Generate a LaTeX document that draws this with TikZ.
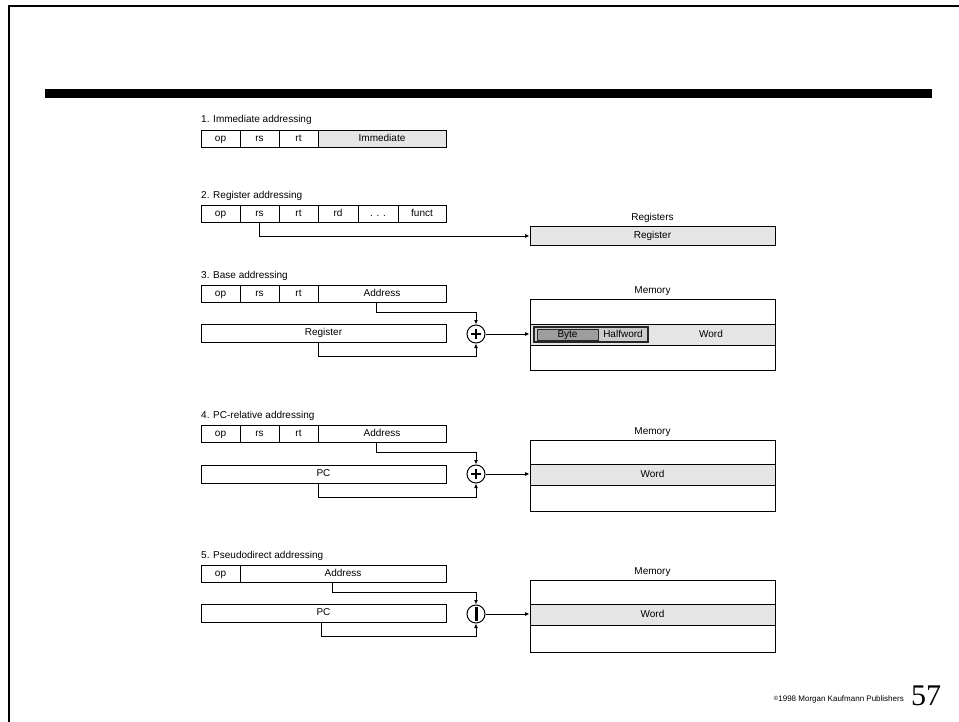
\documentclass[tikz,border=0pt]{standalone}
\usepackage{fontspec}
\setmainfont{Liberation Sans}
\newfontfamily\serifnum{Liberation Serif}
\usetikzlibrary{arrows.meta}
\begin{document}
\begin{tikzpicture}[x=1pt,y=-1pt,
  font=\fontsize{10}{12}\selectfont,
  txt/.style={text height=7.2pt,text depth=2pt},
  cell/.style={draw,line width=0.9pt,inner sep=0pt,minimum height=17pt,txt},
  light/.style={fill=black!10},
  lbl/.style={anchor=west,inner sep=0pt,txt},
  conn/.style={line width=0.9pt,-{Latex[length=4.5pt,width=4pt]}},
  adder/.style={draw,circle,line width=1pt,minimum size=18pt,inner sep=0pt},
  membox/.style={draw,line width=0.9pt,fill=white,inner sep=0pt,minimum width=245pt},
  memrow/.style={draw,line width=0.9pt,fill=black!10,inner sep=0pt,minimum width=245pt,minimum height=21pt,txt},
]
\useasboundingbox (0,0) rectangle (959,722);
% frame and bar
\draw[line width=2pt] (9,722) -- (9,6) -- (959,6);
\fill (45,89) rectangle (932,98);

% ---------- 1. Immediate
\node[lbl] (t1) at (201,120) {1. Immediate addressing};
\node[cell,minimum width=39pt] (op1) at (220.5,138.5) {op};
\node[cell,minimum width=39pt] (rs1) at (259.5,138.5) {rs};
\node[cell,minimum width=39pt] (rt1) at (298.5,138.5) {rt};
\node[cell,light,minimum width=128pt] (im1) at (382,138.5) {Immediate};

% ---------- 2. Register
\node[lbl] (t2) at (201,196) {2. Register addressing};
\node[cell,minimum width=39pt] (op2) at (220.5,213.5) {op};
\node[cell,minimum width=39pt] (rs2) at (259.5,213.5) {rs};
\node[cell,minimum width=39pt] (rt2) at (298.5,213.5) {rt};
\node[cell,minimum width=40pt] (rd2) at (338,213.5) {rd};
\node[cell,minimum width=40pt] (sh2) at (378,213.5) {. . .};
\node[cell,minimum width=48pt] (fn2) at (422,213.5) {funct};
\node[txt] (regl) at (652.5,218) {Registers};
\node[memrow,minimum height=19pt] (reg2) at (652.5,236) {Register};
\draw[conn] (rs2.south) |- (reg2.west);

% ---------- 3. Base
\node[lbl] (t3) at (201,276) {3. Base addressing};
\node[cell,minimum width=39pt] (op3) at (220.5,293.5) {op};
\node[cell,minimum width=39pt] (rs3) at (259.5,293.5) {rs};
\node[cell,minimum width=39pt] (rt3) at (298.5,293.5) {rt};
\node[cell,minimum width=128pt] (ad3) at (382,293.5) {Address};
\node[cell,minimum width=245pt,minimum height=18pt] (rg3) at (323.5,333) {Register};
\node[adder] (p3) at (476,334) {};
\draw[line width=1.3pt] (p3.center) ++(-5,0) -- ++(10,0) (p3.center) ++(0,-5) -- ++(0,10);
\node[txt] (ml3) at (652.5,291) {Memory};
\node[membox,minimum height=71pt] (m3) at (652.5,334.5) {};
\node[memrow] (w3) at (652.5,334.5) {};
\node[draw=black!85,line width=1.3pt,fill=black!20,inner sep=0pt,minimum width=114pt,minimum height=15pt] (hw3) at (591,334.5) {};
\node[draw=black!85,line width=1pt,fill=black!38,inner sep=0pt,minimum width=61pt,minimum height=11pt,txt] (by3) at (567.5,334.5) {Byte};
\node[txt] (hwt3) at (623,334.5) {Halfword};
\node[txt] (wd3) at (711,334.5) {Word};
\draw[conn] ([xshift=-6pt]ad3.south) -- ++(0,10) -| (p3.north);
\draw[conn] ([xshift=-5.5pt]rg3.south) -- ++(0,14) -| (p3.south);
\draw[conn] (p3.east) -- (p3.east -| w3.west);

% ---------- 4. PC-relative
\node[lbl] (t4) at (201,416) {4. PC-relative addressing};
\node[cell,minimum width=39pt] (op4) at (220.5,433.5) {op};
\node[cell,minimum width=39pt] (rs4) at (259.5,433.5) {rs};
\node[cell,minimum width=39pt] (rt4) at (298.5,433.5) {rt};
\node[cell,minimum width=128pt] (ad4) at (382,433.5) {Address};
\node[cell,minimum width=245pt,minimum height=18pt] (pc4) at (323.5,474) {PC};
\node[adder] (p4) at (476,474) {};
\draw[line width=1.3pt] (p4.center) ++(-5,0) -- ++(10,0) (p4.center) ++(0,-5) -- ++(0,10);
\node[txt] (ml4) at (652.5,432) {Memory};
\node[membox,minimum height=71pt] (m4) at (652.5,475.5) {};
\node[memrow] (w4) at (652.5,474.5) {Word};
\draw[conn] ([xshift=-6pt]ad4.south) -- ++(0,10) -| (p4.north);
\draw[conn] ([xshift=-5.5pt]pc4.south) -- ++(0,14) -| (p4.south);
\draw[conn] (p4.east) -- (p4.east -| w4.west);

% ---------- 5. Pseudodirect
\node[lbl] (t5) at (201,556) {5. Pseudodirect addressing};
\node[cell,minimum width=39pt] (op5) at (220.5,573.5) {op};
\node[cell,minimum width=206pt] (ad5) at (343,573.5) {Address};
\node[cell,minimum width=245pt,minimum height=18pt] (pc5) at (323.5,613) {PC};
\node[adder] (p5) at (476,614) {};
\fill (p5.center) ++(-1.5,-7) rectangle ++(3,14);
\node[txt] (ml5) at (652.5,572) {Memory};
\node[membox,minimum height=72pt] (m5) at (652.5,616) {};
\node[memrow] (w5) at (652.5,614.5) {Word};
\draw[conn] ([xshift=-11pt]ad5.south) -- ++(0,10) -| (p5.north);
\draw[conn] ([xshift=-2.5pt]pc5.south) -- ++(0,14) -| (p5.south);
\draw[conn] (p5.east) -- (p5.east -| w5.west);

% ---------- footer
\node[anchor=base east,inner sep=0pt,font=\fontsize{8}{9}\selectfont] (cp) at (904,701) {{\fontsize{6}{6}\selectfont\raisebox{0.3ex}{©}}1998 Morgan Kaufmann Publishers};
\node[anchor=base west,inner sep=0pt,font=\serifnum\fontsize{30}{32}\selectfont] (pg) at (911,705) {57};
\end{tikzpicture}
\end{document}
